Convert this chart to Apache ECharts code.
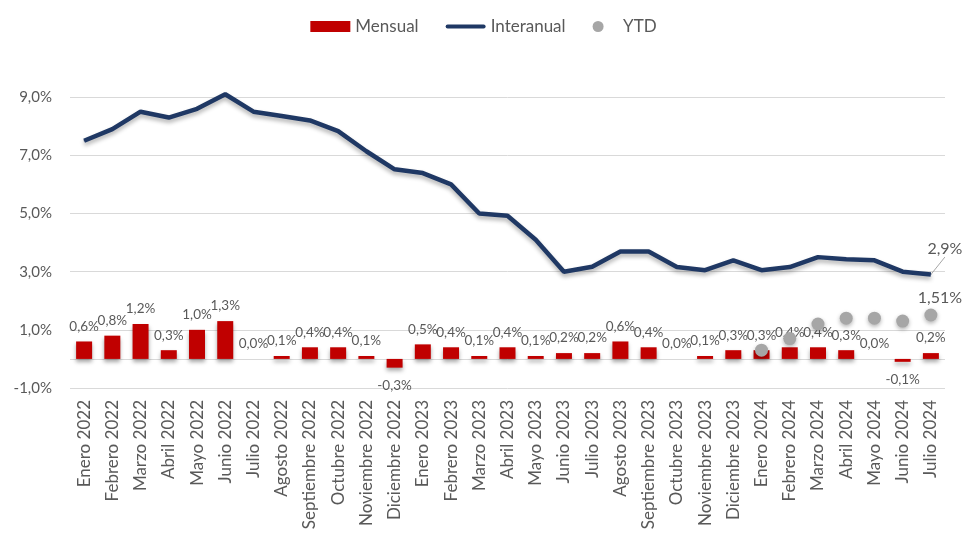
<!DOCTYPE html>
<html>
<head>
<meta charset="utf-8">
<script src="https://cdn.jsdelivr.net/npm/echarts@6/dist/echarts.min.js"></script>
<style>
  html, body { margin: 0; padding: 0; background: #fff; }
  #chart { width: 967px; height: 540px; }
</style>
</head>
<body>
<div id="chart"></div>
<script>
// datos
const meses = [
  'Enero 2022', 'Febrero 2022', 'Marzo 2022', 'Abril 2022', 'Mayo 2022', 'Junio 2022',
  'Julio 2022', 'Agosto 2022', 'Septiembre 2022', 'Octubre 2022', 'Noviembre 2022', 'Diciembre 2022',
  'Enero 2023', 'Febrero 2023', 'Marzo 2023', 'Abril 2023', 'Mayo 2023', 'Junio 2023',
  'Julio 2023', 'Agosto 2023', 'Septiembre 2023', 'Octubre 2023', 'Noviembre 2023', 'Diciembre 2023',
  'Enero 2024', 'Febrero 2024', 'Marzo 2024', 'Abril 2024', 'Mayo 2024', 'Junio 2024', 'Julio 2024'
];
const mensual = [0.6, 0.8, 1.2, 0.3, 1.0, 1.3, 0.0, 0.1, 0.4, 0.4, 0.1, -0.3,
  0.5, 0.4, 0.1, 0.4, 0.1, 0.2, 0.2, 0.6, 0.4, 0.0, 0.1, 0.3,
  0.3, 0.4, 0.4, 0.3, 0.0, -0.1, 0.2];
const interanual = [7.5, 7.9, 8.5, 8.3, 8.6, 9.1, 8.5, 8.35, 8.2, 7.83, 7.14, 6.52,
  6.39, 6.0, 5.0, 4.92, 4.1, 3.0, 3.17, 3.69, 3.69, 3.16, 3.05, 3.39,
  3.05, 3.16, 3.5, 3.43, 3.39, 3.0, 2.9];
const ytd = ['-', '-', '-', '-', '-', '-', '-', '-', '-', '-', '-', '-',
  '-', '-', '-', '-', '-', '-', '-', '-', '-', '-', '-', '-',
  0.3, 0.7, 1.2, 1.4, 1.4, 1.3, 1.51];
const yTicks = [-1, 1, 3, 5, 7, 9, 11];

const fuente = 'Lato, "Open Sans", sans-serif';
const gris = '#595959';
const ultimo = meses.length - 1;

const fmt1 = v => v.toFixed(1).replace('.', ',') + '%';

let myChart = echarts.init(document.getElementById('chart'));

let option = {
  textStyle: { fontFamily: fuente },
  animation: false,
  legend: {
    top: 13,
    left: 'center',
    itemWidth: 40,
    itemHeight: 11,
    itemGap: 27,
    textStyle: { color: gris, fontSize: 17, fontFamily: fuente },
    data: [
      { name: 'Mensual', icon: 'rect' },
      { name: 'Interanual', icon: 'path://M2,0L38,0A2,2 0 0 1 38,4L2,4A2,2 0 0 1 2,0Z' },
      { name: 'YTD', icon: 'circle' }
    ]
  },
  grid: { left: 70, right: 22, top: 39, bottom: 152 },
  xAxis: {
    type: 'category',
    data: meses,
    boundaryGap: true,
    axisLine: { show: false },
    axisTick: { show: false },
    axisLabel: { rotate: 90, color: gris, fontSize: 17, margin: 12, interval: 0, fontFamily: fuente }
  },
  yAxis: {
    type: 'value',
    min: yTicks[0],
    max: yTicks[yTicks.length - 1],
    interval: 2,
    axisLine: { show: false },
    axisTick: { show: false },
    axisLabel: {
      color: gris, fontSize: 15, margin: 18, fontFamily: fuente,
      formatter: v => (v >= 10 ? '' : fmt1(v))
    },
    splitLine: {
      lineStyle: {
        color: yTicks.map(t => (t >= 10 ? 'rgba(0,0,0,0)' : '#d9d9d9')),
        width: 1
      }
    }
  },
  series: [
    {
      name: 'Mensual',
      type: 'bar',
      barWidth: 16,
      data: mensual.map(v => ({
        value: v,
        label: { position: v < 0 ? 'bottom' : 'top', distance: v < 0 ? 11 : 8 }
      })),
      itemStyle: {
        color: '#c00000',
        shadowColor: 'rgba(0,0,0,0.35)',
        shadowBlur: 4,
        shadowOffsetY: 3
      },
      label: {
        show: true,
        color: gris,
        fontSize: 13.5,
        fontFamily: fuente,
        formatter: p => fmt1(p.value)
      },
      markLine: {
        silent: true,
        symbol: 'none',
        label: { show: false },
        lineStyle: { color: '#d9d9d9', type: 'solid', width: 1 },
        data: [{ yAxis: 0 }],
        z: 1
      },
      z: 2
    },
    {
      name: 'Interanual',
      type: 'line',
      data: interanual.map((v, i) => (i === ultimo
        ? { value: v, label: { show: true }, labelLine: { show: true } }
        : v)),
      symbol: 'circle',
      symbolSize: 1,
      showSymbol: true,
      itemStyle: { color: '#1f3864' },
      lineStyle: {
        color: '#1f3864',
        width: 4.5,
        shadowColor: 'rgba(0,0,0,0.3)',
        shadowBlur: 4,
        shadowOffsetY: 3
      },
      label: {
        show: false,
        position: 'top',
        color: gris,
        fontSize: 16,
        fontFamily: fuente,
        formatter: p => fmt1(p.value)
      },
      labelLine: { show: false, lineStyle: { color: '#a6a6a6', width: 1 } },
      labelLayout: p => (p.dataIndex === ultimo ? { dx: 14, dy: -12 } : {}),
      z: 4
    },
    {
      name: 'YTD',
      type: 'scatter',
      data: ytd.map((v, i) => (i === ultimo ? { value: v, label: { show: true } } : v)),
      symbolSize: 13,
      itemStyle: {
        color: '#a6a6a6',
        opacity: 1,
        shadowColor: 'rgba(0,0,0,0.3)',
        shadowBlur: 4,
        shadowOffsetY: 2
      },
      label: {
        show: false,
        position: 'top',
        distance: 3,
        color: gris,
        fontSize: 16,
        fontFamily: fuente,
        formatter: p => p.value.toFixed(2).replace('.', ',') + '%'
      },
      labelLayout: p => (p.dataIndex === ultimo ? { dx: 9 } : {}),
      z: 3
    }
  ]
};

myChart.setOption(option);
</script>
</body>
</html>
